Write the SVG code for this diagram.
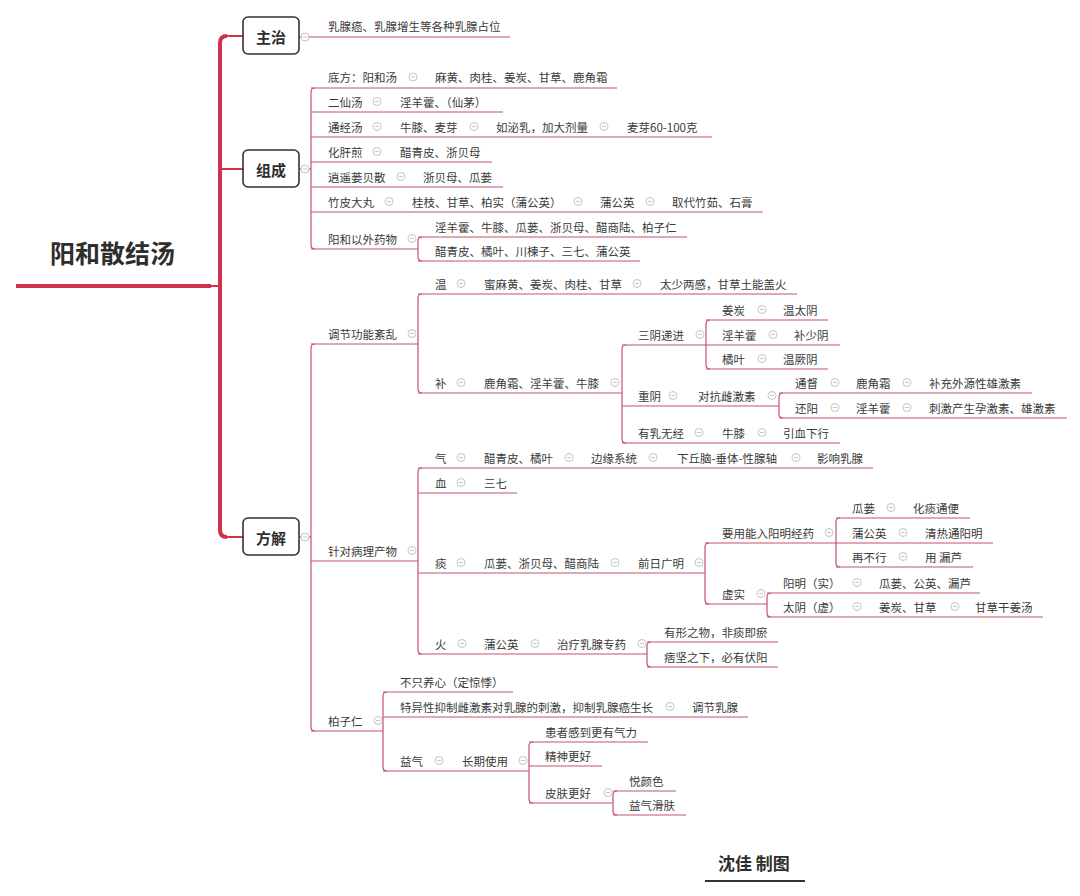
<svg xmlns="http://www.w3.org/2000/svg" xmlns:xlink="http://www.w3.org/1999/xlink" width="1080" height="896" viewBox="0 0 1080 896">
<defs>
<style>
text{font-family:"Noto Sans CJK SC","Noto Sans",sans-serif;fill:#3a3a3a;font-size:11.5px;dominant-baseline:central}
.root{font-size:25px;font-weight:bold;fill:#2e2e2e}
.bt{font-size:15px;font-weight:bold;fill:#2e2e2e;text-anchor:middle}
.ft{font-size:17px;font-weight:bold;fill:#2e2e2e}
.box{fill:#fff;stroke:#333;stroke-width:1.6}
.c line,.c path{fill:none;stroke:#c25468;stroke-width:1.2}
.c .red{stroke:#d1324b;stroke-width:4}
.c .redt{stroke:#d1324b;stroke-width:2}
.c .ft2{stroke:#333;stroke-width:2}
.k circle{fill:#fff;stroke:#c4c4c4;stroke-width:1}
.k line{stroke:#c4c4c4;stroke-width:1}
</style>
<g id="m" class="k"><circle cx="0" cy="0" r="4"/><line x1="-2" y1="0" x2="2" y2="0"/></g>
</defs>
<rect width="1080" height="896" fill="#fff"/>

<g id="connectors" class="c">
<line class="red" x1="16" y1="286" x2="211" y2="286"/>
<line class="redt" x1="211" y1="286" x2="220" y2="286"/>
<path class="red" d="M227,36 Q220,36 220,43 L220,530 Q220,537 227,537"/>
<line class="redt" x1="226" y1="36" x2="243" y2="36"/>
<line class="redt" x1="220" y1="169" x2="243" y2="169"/>
<line class="redt" x1="226" y1="537" x2="243" y2="537"/>
<!-- 主治 -->
<line x1="299" y1="37" x2="510" y2="37"/>
<!-- 组成 -->
<line x1="299" y1="169" x2="311" y2="169"/>
<path d="M315,88 Q311,88 311,92 L311,245 Q311,249 315,249"/>
<line x1="311" y1="88" x2="617" y2="88"/>
<line x1="311" y1="112" x2="503" y2="112"/>
<line x1="311" y1="137" x2="712" y2="137"/>
<line x1="311" y1="162" x2="492" y2="162"/>
<line x1="311" y1="187" x2="503" y2="187"/>
<line x1="311" y1="212" x2="763" y2="212"/>
<line x1="311" y1="249" x2="418" y2="249"/>
<path d="M422,237 Q418,237 418,241 L418,257 Q418,261 422,261"/>
<line x1="418" y1="237" x2="687" y2="237"/>
<line x1="418" y1="261" x2="640" y2="261"/>
<!-- 方解 -->
<line x1="299" y1="537" x2="311" y2="537"/>
<path d="M315,344 Q311,344 311,348 L311,727 Q311,731 315,731"/>
<line x1="311" y1="344" x2="418" y2="344"/>
<line x1="311" y1="561" x2="418" y2="561"/>
<line x1="311" y1="731" x2="383" y2="731"/>
<!-- 调节功能紊乱 -->
<path d="M422,294 Q418,294 418,298 L418,389 Q418,393 422,393"/>
<line x1="418" y1="294" x2="797" y2="294"/>
<line x1="418" y1="393" x2="622" y2="393"/>
<path d="M626,345 Q622,345 622,349 L622,439 Q622,443 626,443"/>
<line x1="622" y1="345" x2="706" y2="345"/>
<line x1="622" y1="406" x2="779" y2="406"/>
<line x1="622" y1="443" x2="840" y2="443"/>
<path d="M710,320 Q706,320 706,324 L706,365 Q706,369 710,369"/>
<line x1="706" y1="320" x2="828" y2="320"/>
<line x1="706" y1="345" x2="840" y2="345"/>
<line x1="706" y1="369" x2="828" y2="369"/>
<path d="M783,393 Q779,393 779,397 L779,414 Q779,418 783,418"/>
<line x1="779" y1="393" x2="1032" y2="393"/>
<line x1="779" y1="418" x2="1067" y2="418"/>
<!-- 针对病理产物 -->
<path d="M422,468 Q418,468 418,472 L418,650 Q418,654 422,654"/>
<line x1="418" y1="468" x2="873" y2="468"/>
<line x1="418" y1="493" x2="517" y2="493"/>
<line x1="418" y1="573" x2="705" y2="573"/>
<line x1="418" y1="654" x2="647" y2="654"/>
<path d="M709,543 Q705,543 705,547 L705,600 Q705,604 709,604"/>
<line x1="705" y1="543" x2="836" y2="543"/>
<line x1="705" y1="604" x2="767" y2="604"/>
<path d="M840,518 Q836,518 836,522 L836,563 Q836,567 840,567"/>
<line x1="836" y1="518" x2="970" y2="518"/>
<line x1="836" y1="543" x2="993" y2="543"/>
<line x1="836" y1="567" x2="973" y2="567"/>
<path d="M771,593 Q767,593 767,597 L767,613 Q767,617 771,617"/>
<line x1="767" y1="593" x2="980" y2="593"/>
<line x1="767" y1="617" x2="1043" y2="617"/>
<path d="M651,642 Q647,642 647,646 L647,663 Q647,667 651,667"/>
<line x1="647" y1="642" x2="778" y2="642"/>
<line x1="647" y1="667" x2="778" y2="667"/>
<!-- 柏子仁 -->
<path d="M387,692 Q383,692 383,696 L383,767 Q383,771 387,771"/>
<line x1="383" y1="692" x2="513" y2="692"/>
<line x1="383" y1="717" x2="748" y2="717"/>
<line x1="383" y1="771" x2="529" y2="771"/>
<path d="M533,742 Q529,742 529,746 L529,799 Q529,803 533,803"/>
<line x1="529" y1="742" x2="648" y2="742"/>
<line x1="529" y1="766" x2="602" y2="766"/>
<line x1="529" y1="803" x2="613" y2="803"/>
<path d="M617,791 Q613,791 613,795 L613,811 Q613,815 617,815"/>
<line x1="613" y1="791" x2="676" y2="791"/>
<line x1="613" y1="815" x2="686" y2="815"/>
<line class="ft2" x1="705" y1="881" x2="805" y2="881"/>
</g>

<g id="root"><text class="root" x="50" y="252">阳和散结汤</text></g>

<g id="zhuzhi"><rect class="box" x="243" y="17" width="56" height="37" rx="5"/><text class="bt" x="271" y="36">主治</text><use xlink:href="#m" x="305" y="37"/></g>
<g id="zhuzhi-1"><text x="328" y="26">乳腺癌、乳腺增生等各种乳腺占位</text></g>

<g id="zucheng"><rect class="box" x="243" y="150" width="56" height="37" rx="5"/><text class="bt" x="271" y="169">组成</text><use xlink:href="#m" x="305" y="169"/></g>
<g id="zc-1"><text x="328" y="77">底方：阳和汤</text><use xlink:href="#m" x="413" y="77"/></g>
<g id="zc-1a"><text x="435" y="77">麻黄、肉桂、姜炭、甘草、鹿角霜</text></g>
<g id="zc-2"><text x="328" y="101.5">二仙汤</text><use xlink:href="#m" x="377" y="101.5"/></g>
<g id="zc-2a"><text x="400" y="101.5">淫羊藿、（仙茅）</text></g>
<g id="zc-3"><text x="328" y="126.5">通经汤</text><use xlink:href="#m" x="377" y="126.5"/></g>
<g id="zc-3a"><text x="400" y="126.5">牛膝、麦芽</text><use xlink:href="#m" x="474" y="126.5"/></g>
<g id="zc-3b"><text x="496" y="126.5">如泌乳，加大剂量</text><use xlink:href="#m" x="604" y="126.5"/></g>
<g id="zc-3c"><text x="627" y="126.5">麦芽60-100克</text></g>
<g id="zc-4"><text x="328" y="151.5">化肝煎</text><use xlink:href="#m" x="377" y="151.5"/></g>
<g id="zc-4a"><text x="400" y="151.5">醋青皮、浙贝母</text></g>
<g id="zc-5"><text x="328" y="176.5">逍遥蒌贝散</text><use xlink:href="#m" x="401" y="176.5"/></g>
<g id="zc-5a"><text x="423" y="176.5">浙贝母、瓜蒌</text></g>
<g id="zc-6"><text x="328" y="201.5">竹皮大丸</text><use xlink:href="#m" x="389" y="201.5"/></g>
<g id="zc-6a"><text x="412" y="201.5">桂枝、甘草、柏实（蒲公英）</text><use xlink:href="#m" x="578" y="201.5"/></g>
<g id="zc-6b"><text x="600" y="201.5">蒲公英</text><use xlink:href="#m" x="650" y="201.5"/></g>
<g id="zc-6c"><text x="672" y="201.5">取代竹茹、石膏</text></g>
<g id="zc-7"><text x="328" y="238.5">阳和以外药物</text><use xlink:href="#m" x="412" y="238.5"/></g>
<g id="zc-7a"><text x="435" y="226.5">淫羊藿、牛膝、瓜蒌、浙贝母、醋商陆、柏子仁</text></g>
<g id="zc-7b"><text x="435" y="250.5">醋青皮、橘叶、川楝子、三七、蒲公英</text></g>

<g id="fangjie"><rect class="box" x="243" y="518" width="56" height="37" rx="5"/><text class="bt" x="271" y="537">方解</text><use xlink:href="#m" x="305" y="537"/></g>
<g id="fj-1"><text x="328" y="333.5">调节功能紊乱</text><use xlink:href="#m" x="412" y="333.5"/></g>
<g id="fj-1-wen"><text x="435" y="283.5">温</text><use xlink:href="#m" x="461" y="283.5"/></g>
<g id="fj-1-wen-a"><text x="484" y="283.5">蜜麻黄、姜炭、肉桂、甘草</text><use xlink:href="#m" x="637" y="283.5"/></g>
<g id="fj-1-wen-b"><text x="660" y="283.5">太少两感，甘草土能盖火</text></g>
<g id="fj-1-bu"><text x="435" y="382.5">补</text><use xlink:href="#m" x="461" y="382.5"/></g>
<g id="fj-1-bu-a"><text x="484" y="382.5">鹿角霜、淫羊藿、牛膝</text><use xlink:href="#m" x="615" y="382.5"/></g>
<g id="fj-sy"><text x="638" y="334.5">三阴递进</text><use xlink:href="#m" x="700" y="334.5"/></g>
<g id="fj-sy-1"><text x="722" y="309.5">姜炭</text><use xlink:href="#m" x="762" y="309.5"/></g>
<g id="fj-sy-1a"><text x="783" y="309.5">温太阴</text></g>
<g id="fj-sy-2"><text x="722" y="334.5">淫羊藿</text><use xlink:href="#m" x="773" y="334.5"/></g>
<g id="fj-sy-2a"><text x="794" y="334.5">补少阴</text></g>
<g id="fj-sy-3"><text x="722" y="358.5">橘叶</text><use xlink:href="#m" x="762" y="358.5"/></g>
<g id="fj-sy-3a"><text x="783" y="358.5">温厥阴</text></g>
<g id="fj-zy"><text x="638" y="395.5">重阴</text><use xlink:href="#m" x="673" y="395.5"/></g>
<g id="fj-zy-a"><text x="698" y="395.5">对抗雌激素</text><use xlink:href="#m" x="772" y="395.5"/></g>
<g id="fj-td"><text x="795" y="382.5">通督</text><use xlink:href="#m" x="835" y="382.5"/></g>
<g id="fj-td-a"><text x="856" y="382.5">鹿角霜</text><use xlink:href="#m" x="907" y="382.5"/></g>
<g id="fj-td-b"><text x="929" y="382.5">补充外源性雄激素</text></g>
<g id="fj-hy"><text x="795" y="407.5">还阳</text><use xlink:href="#m" x="835" y="407.5"/></g>
<g id="fj-hy-a"><text x="856" y="407.5">淫羊藿</text><use xlink:href="#m" x="907" y="407.5"/></g>
<g id="fj-hy-b"><text x="929" y="407.5">刺激产生孕激素、雄激素</text></g>
<g id="fj-yr"><text x="638" y="432.5">有乳无经</text><use xlink:href="#m" x="699" y="432.5"/></g>
<g id="fj-yr-a"><text x="722" y="432.5">牛膝</text><use xlink:href="#m" x="762" y="432.5"/></g>
<g id="fj-yr-b"><text x="783" y="432.5">引血下行</text></g>

<g id="fj-2"><text x="328" y="550.5">针对病理产物</text><use xlink:href="#m" x="412" y="550.5"/></g>
<g id="fj-qi"><text x="435" y="457.5">气</text><use xlink:href="#m" x="461" y="457.5"/></g>
<g id="fj-qi-a"><text x="484" y="457.5">醋青皮、橘叶</text><use xlink:href="#m" x="569" y="457.5"/></g>
<g id="fj-qi-b"><text x="591" y="457.5">边缘系统</text><use xlink:href="#m" x="653" y="457.5"/></g>
<g id="fj-qi-c"><text x="677" y="457.5">下丘脑-垂体-性腺轴</text><use xlink:href="#m" x="796" y="457.5"/></g>
<g id="fj-qi-d"><text x="817" y="457.5">影响乳腺</text></g>
<g id="fj-xue"><text x="435" y="482.5">血</text><use xlink:href="#m" x="461" y="482.5"/></g>
<g id="fj-xue-a"><text x="484" y="482.5">三七</text></g>
<g id="fj-tan"><text x="435" y="562.5">痰</text><use xlink:href="#m" x="461" y="562.5"/></g>
<g id="fj-tan-a"><text x="484" y="562.5">瓜蒌、浙贝母、醋商陆</text><use xlink:href="#m" x="615" y="562.5"/></g>
<g id="fj-tan-b"><text x="638" y="562.5">前日广明</text><use xlink:href="#m" x="699" y="562.5"/></g>
<g id="fj-yy"><text x="722" y="532.5">要用能入阳明经药</text><use xlink:href="#m" x="829" y="532.5"/></g>
<g id="fj-yy-1"><text x="852" y="507.5">瓜蒌</text><use xlink:href="#m" x="891" y="507.5"/></g>
<g id="fj-yy-1a"><text x="913" y="507.5">化痰通便</text></g>
<g id="fj-yy-2"><text x="852" y="532.5">蒲公英</text><use xlink:href="#m" x="903" y="532.5"/></g>
<g id="fj-yy-2a"><text x="925" y="532.5">清热通阳明</text></g>
<g id="fj-yy-3"><text x="852" y="556.5">再不行</text><use xlink:href="#m" x="903" y="556.5"/></g>
<g id="fj-yy-3a"><text x="925" y="556.5">用 漏芦</text></g>
<g id="fj-xs"><text x="722" y="593.5">虚实</text><use xlink:href="#m" x="761" y="593.5"/></g>
<g id="fj-xs-1"><text x="783" y="582.5">阳明（实）</text><use xlink:href="#m" x="857" y="582.5"/></g>
<g id="fj-xs-1a"><text x="879" y="582.5">瓜蒌、公英、漏芦</text></g>
<g id="fj-xs-2"><text x="783" y="606.5">太阴（虚）</text><use xlink:href="#m" x="857" y="606.5"/></g>
<g id="fj-xs-2a"><text x="879" y="606.5">姜炭、甘草</text><use xlink:href="#m" x="955" y="606.5"/></g>
<g id="fj-xs-2b"><text x="975" y="606.5">甘草干姜汤</text></g>
<g id="fj-huo"><text x="435" y="643.5">火</text><use xlink:href="#m" x="462" y="643.5"/></g>
<g id="fj-huo-a"><text x="484" y="643.5">蒲公英</text><use xlink:href="#m" x="535" y="643.5"/></g>
<g id="fj-huo-b"><text x="557" y="643.5">治疗乳腺专药</text><use xlink:href="#m" x="642" y="643.5"/></g>
<g id="fj-huo-c"><text x="664" y="631.5">有形之物，非痰即瘀</text></g>
<g id="fj-huo-d"><text x="664" y="656.5">痞坚之下，必有伏阳</text></g>

<g id="fj-3"><text x="328" y="720.5">柏子仁</text><use xlink:href="#m" x="378" y="720.5"/></g>
<g id="fj-3-1"><text x="400" y="681.5">不只养心（定惊悸）</text></g>
<g id="fj-3-2"><text x="400" y="706.5">特异性抑制雌激素对乳腺的刺激，抑制乳腺癌生长</text><use xlink:href="#m" x="670" y="706.5"/></g>
<g id="fj-3-2a"><text x="692" y="706.5">调节乳腺</text></g>
<g id="fj-3-3"><text x="400" y="760.5">益气</text><use xlink:href="#m" x="439" y="760.5"/></g>
<g id="fj-3-3a"><text x="462" y="760.5">长期使用</text><use xlink:href="#m" x="523" y="760.5"/></g>
<g id="fj-3-3a1"><text x="545" y="731.5">患者感到更有气力</text></g>
<g id="fj-3-3a2"><text x="545" y="755.5">精神更好</text></g>
<g id="fj-3-3a3"><text x="545" y="792.5">皮肤更好</text><use xlink:href="#m" x="608" y="792.5"/></g>
<g id="fj-3-3a3a"><text x="629" y="780.5">悦颜色</text></g>
<g id="fj-3-3a3b"><text x="629" y="804.5">益气滑肤</text></g>

<g id="footer"><text class="ft" x="718" y="862">沈佳 制图</text></g>
</svg>
